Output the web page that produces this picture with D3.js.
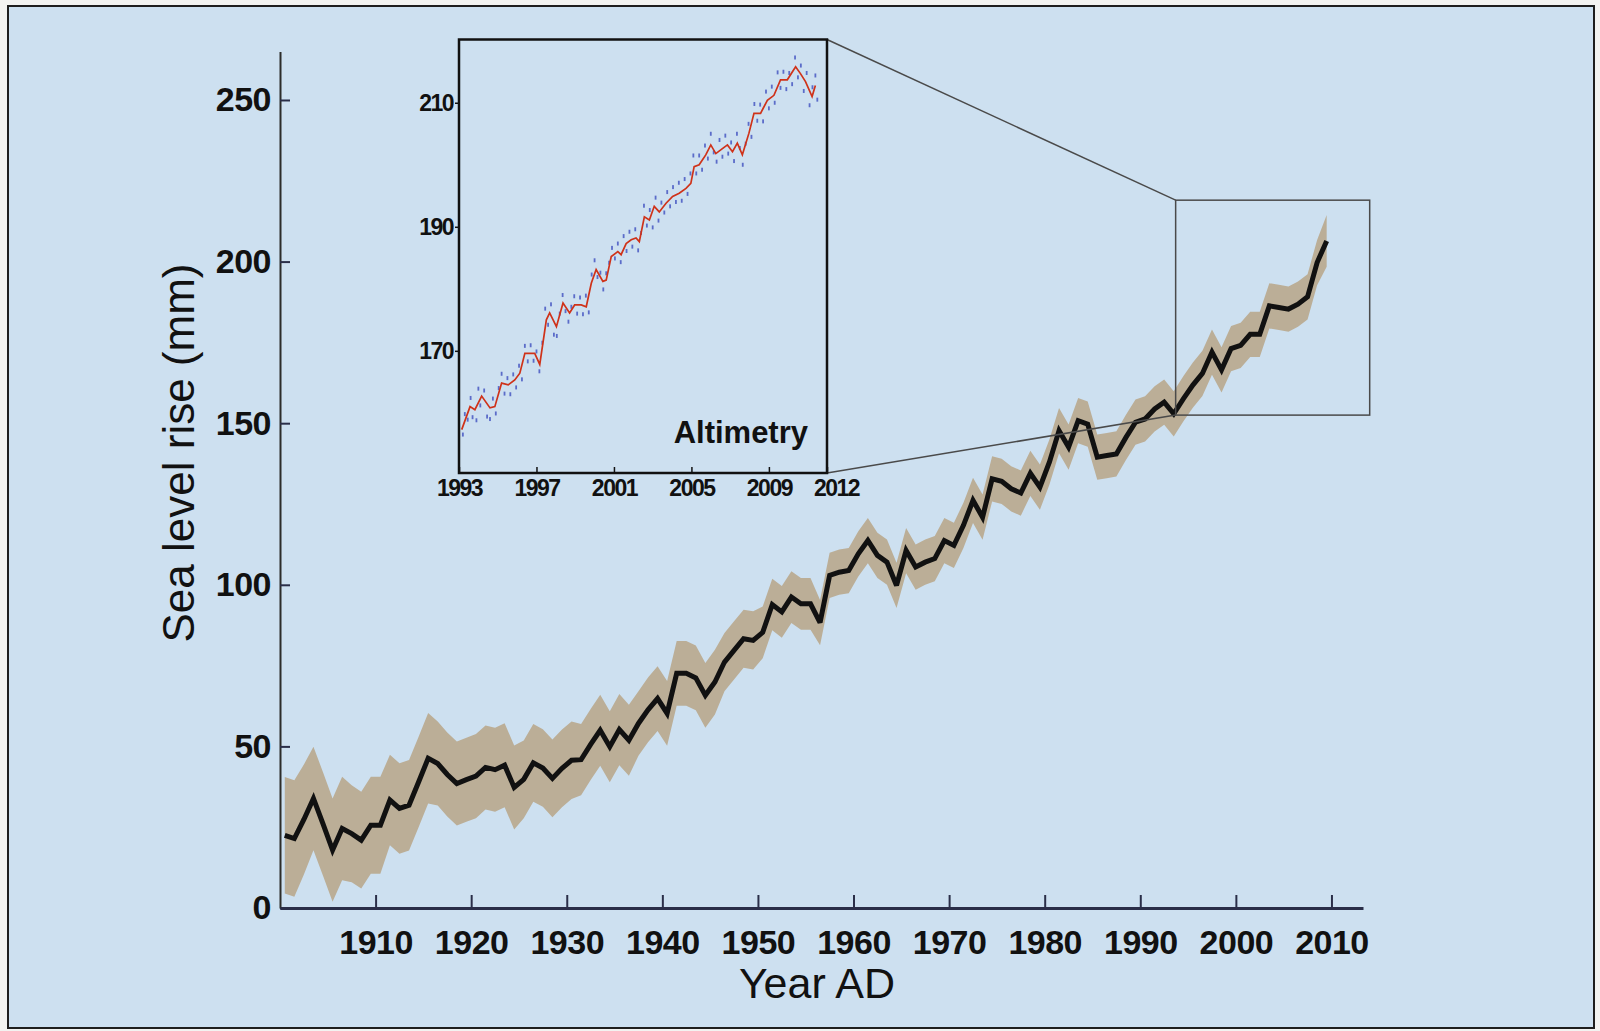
<!DOCTYPE html>
<meta charset="utf-8">
<style>
html, body {
  margin: 0;
  padding: 0;
  background: #f3f3f1;
}

svg {
  display: block;
  font-family: "Liberation Sans", Arial, sans-serif;
}

.axis text {
  font-weight: bold;
  fill: #111;
}

.main.axis text {
  font-size: 34px;
  letter-spacing: -0.5px;
}

.inset.axis text {
  font-size: 23px;
  letter-spacing: -1.5px;
}

.x.main.axis path {
  stroke: #2a2e48;
  stroke-width: 3px;
}

.y.main.axis path {
  stroke: #2d2d2a;
  stroke-width: 2px;
}

.main.axis line {
  stroke: #2a2e48;
  stroke-width: 2px;
}

.inset.axis path {
  display: none;
}

.inset.axis line {
  stroke: #111;
  stroke-width: 1.5px;
}

.band {
  fill: #bbae97;
}

.rise {
  fill: none;
  stroke: #111;
  stroke-width: 5px;
  stroke-linejoin: miter;
  stroke-miterlimit: 3;
}

.alti {
  fill: none;
  stroke: #cf3219;
  stroke-width: 1.7px;
}

.dot {
  fill: #3f4fbf;
  fill-opacity: .8;
}

.connector, .zoombox {
  fill: none;
  stroke: #4a4a4a;
  stroke-width: 1.5px;
}
</style>
<body>
<div id="chart"></div>
<script src="https://cdn.jsdelivr.net/npm/d3@7"></script>
<script>

// annual global mean sea level reconstruction (mm), plotted at mid-year
var years = d3.range(1900, 2010);

var riseMm = [
  22.5, 21.5, 27.4, 33.9, 26.0, 17.9, 24.6, 23.0, 21.0, 25.6,
  25.6, 33.4, 30.8, 31.8, 39.0, 46.3, 44.7, 41.3, 38.5, 39.7,
  40.8, 43.5, 42.8, 44.2, 37.3, 39.8, 44.9, 43.3, 40.1, 43.2,
  45.7, 45.9, 50.6, 55.0, 49.9, 55.2, 51.9, 57.1, 61.3, 64.8,
  60.2, 72.6, 72.6, 71.2, 65.8, 69.9, 76.1, 79.7, 83.3, 82.8,
  85.3, 93.9, 91.6, 96.2, 94.1, 94.1, 88.3, 102.9, 103.9, 104.4,
  109.6, 113.7, 109.1, 107.0, 99.8, 110.6, 105.5, 107.0, 108.1, 113.7,
  112.2, 118.4, 126.1, 120.9, 132.8, 132.0, 129.7, 128.4, 134.5, 130.2,
  138.0, 147.7, 142.6, 150.8, 149.7, 139.5, 140.0, 140.5, 145.6, 150.3,
  151.3, 154.4, 156.5, 152.9, 157.5, 161.8, 165.4, 172.0, 166.5, 173.1,
  174.1, 177.5, 177.5, 186.3, 185.8, 185.3, 186.8, 189.1, 199.7, 206.4
];

// half width of the uncertainty band (mm)
var errMm = [
  18, 18, 17, 16, 16, 16, 16, 15, 15, 15,
  15, 14, 14, 14, 14, 14, 13, 13, 13, 13,
  13, 13, 13, 13, 13, 12, 12, 12, 12, 12,
  12, 11, 11, 11, 11, 11, 11, 10, 10, 10,
  10, 10, 10, 10, 10, 10, 9, 9, 9, 9,
  8, 8, 8, 8, 8, 8, 7, 7, 7, 7,
  7, 7, 7, 7, 7, 7, 7, 7, 7, 7,
  7, 7, 7, 7, 7, 7, 7, 7, 7, 7,
  7, 7, 7, 7, 7, 7, 7, 7, 7, 7,
  7, 7, 7, 7, 7, 7, 7, 7, 7, 7,
  7, 7, 7, 7, 7, 7, 7, 7, 7, 8
];

var yearTicks = [1910, 1920, 1930, 1940, 1950, 1960, 1970, 1980, 1990, 2000, 2010];
var mmTicks = [0, 50, 100, 150, 200, 250];

// satellite altimetry, smoothed curve
var altT = [
  1993.14, 1993.57, 1993.82, 1994.17, 1994.60, 1994.85, 1995.20, 1995.54, 1995.88, 1996.14,
  1996.40, 1996.91, 1997.17, 1997.51, 1997.68, 1998.03, 1998.37, 1998.71, 1998.97, 1999.31,
  1999.57, 1999.83, 2000.08, 2000.43, 2000.60, 2000.86, 2001.20, 2001.37, 2001.63, 2001.89,
  2002.14, 2002.31, 2002.57, 2002.83, 2003.08, 2003.34, 2003.69, 2004.03, 2004.37, 2004.72,
  2004.97, 2005.14, 2005.40, 2005.74, 2006.00, 2006.26, 2006.60, 2006.86, 2007.12, 2007.37,
  2007.63, 2007.97, 2008.23, 2008.57, 2008.92, 2009.26, 2009.60, 2009.95, 2010.38, 2010.63,
  2010.89, 2011.23, 2011.40
];
var altV = [
  157.3, 161.0, 160.5, 162.7, 160.8, 161.0, 164.8, 164.5, 165.3, 166.4,
  169.6, 169.6, 167.8, 175.0, 176.1, 173.9, 177.7, 176.1, 177.4, 177.4,
  177.1, 180.9, 183.1, 181.2, 181.4, 185.2, 186.0, 185.5, 187.3, 187.9,
  188.2, 187.6, 191.6, 191.1, 193.3, 192.4, 193.8, 194.9, 195.4, 196.2,
  197.0, 199.7, 200.0, 201.6, 203.2, 201.8, 202.6, 203.2, 202.1, 203.5,
  201.6, 205.1, 208.3, 208.3, 210.4, 211.2, 213.7, 213.7, 215.8, 214.7,
  213.4, 211.0, 212.8
];

// altimetry samples (blue points)
var dotT = [
  1993.2, 1993.3, 1993.45, 1993.6, 1993.7, 1993.9, 1994.0, 1994.1, 1994.3, 1994.45,
  1994.6, 1994.75, 1994.9, 1995.05, 1995.2, 1995.35, 1995.5, 1995.65, 1995.8, 1995.95,
  1996.1, 1996.25, 1996.4, 1996.55, 1996.7, 1996.85, 1997.0, 1997.15, 1997.3, 1997.45,
  1997.6, 1997.75, 1997.9, 1998.05, 1998.2, 1998.35, 1998.5, 1998.65, 1998.8, 1998.95,
  1999.1, 1999.25, 1999.4, 1999.55, 1999.7, 1999.85, 2000.0, 2000.15, 2000.3, 2000.45,
  2000.6, 2000.75, 2000.9, 2001.05, 2001.2, 2001.35, 2001.5, 2001.65, 2001.8, 2001.95,
  2002.1, 2002.25, 2002.4, 2002.55, 2002.7, 2002.85, 2003.0, 2003.15, 2003.3, 2003.45,
  2003.6, 2003.75, 2003.9, 2004.05, 2004.2, 2004.35, 2004.5, 2004.65, 2004.8, 2004.95,
  2005.1, 2005.25, 2005.4, 2005.55, 2005.7, 2005.85, 2006.0, 2006.15, 2006.3, 2006.45,
  2006.6, 2006.75, 2006.9, 2007.05, 2007.2, 2007.35, 2007.5, 2007.65, 2007.8, 2007.95,
  2008.1, 2008.25, 2008.4, 2008.55, 2008.7, 2008.85, 2009.0, 2009.15, 2009.3, 2009.45,
  2009.6, 2009.75, 2009.9, 2010.05, 2010.2, 2010.35, 2010.5, 2010.65, 2010.8, 2010.95,
  2011.1, 2011.25, 2011.4, 2011.5
];
var dotV = [
  156.5, 159.8, 158.9, 162.4, 159.3, 158.8, 163.9, 161.2, 163.6, 159.4,
  159.0, 162.3, 159.9, 164.0, 166.3, 163.1, 165.6, 163.0, 166.2, 164.1,
  167.6, 165.4, 170.8, 168.3, 170.9, 168.4, 169.9, 166.7, 171.3, 176.8,
  174.2, 177.5, 172.6, 172.4, 176.0, 179.0, 176.4, 174.7, 177.1, 178.8,
  176.0, 178.6, 175.9, 178.9, 176.2, 182.3, 184.6, 181.9, 182.6, 179.9,
  182.5, 184.2, 186.6, 184.9, 187.3, 184.3, 188.5, 186.1, 189.2, 186.8,
  189.6, 186.2, 189.0, 193.4, 190.2, 192.7, 189.9, 194.7, 191.0, 193.9,
  192.3, 195.6, 193.3, 196.4, 194.0, 197.1, 194.2, 197.7, 195.3, 198.6,
  201.5, 198.6, 201.5, 199.2, 203.1, 201.0, 205.0, 202.0, 200.5, 204.0,
  201.3, 204.7, 201.8, 203.6, 200.6, 205.0, 202.7, 200.0, 203.4, 206.6,
  204.5, 209.8, 207.1, 209.7, 207.0, 211.8, 209.1, 212.6, 210.0, 214.9,
  212.4, 215.0, 212.2, 214.8, 213.0, 217.3, 214.1, 216.0, 211.9, 214.8,
  209.6, 212.5, 214.4, 210.5
];

var altYearTicks = [1993, 1997, 2001, 2005, 2009, 2012];
var altMmTicks = [170, 190, 210];

// region of the main plot that the inset enlarges
var zoomYears = [1993.7, 2014];
var zoomMm = [152.5, 219];

var width = 1600,
    height = 1031;

var svg = d3.select("#chart").append("svg")
    .attr("width", width)
    .attr("height", height);

// panel
svg.append("rect")
    .attr("x", 8)
    .attr("y", 6)
    .attr("width", 1586)
    .attr("height", 1022)
    .attr("fill", "#cde0f0")
    .attr("stroke", "#1e1e1e")
    .attr("stroke-width", 2);

var x = d3.scaleLinear().domain([1900, 2013.3]).range([280, 1363]);
var y = d3.scaleLinear().domain([0, 265]).range([908, 51.5]);

var series = years.map(function(yr, i) {
  return {t: yr + 0.5, v: riseMm[i], e: errMm[i]};
});

svg.append("path")
    .datum(series)
    .attr("class", "band")
    .attr("d", d3.area()
      .x(function(d) { return x(d.t); })
      .y0(function(d) { return y(d.v - d.e); })
      .y1(function(d) { return y(d.v + d.e); }));

svg.append("path")
    .datum(series)
    .attr("class", "rise")
    .attr("d", d3.line()
      .x(function(d) { return x(d.t); })
      .y(function(d) { return y(d.v); }));

svg.append("g")
    .attr("class", "x main axis")
    .attr("transform", "translate(0," + y(0) + ")")
    .call(d3.axisBottom(x)
      .tickValues(yearTicks)
      .tickFormat(d3.format("d"))
      .tickSizeInner(-13)
      .tickSizeOuter(0)
      .tickPadding(22));

svg.append("g")
    .attr("class", "y main axis")
    .attr("transform", "translate(" + x(1900) + ",0)")
    .call(d3.axisLeft(y)
      .tickValues(mmTicks)
      .tickSizeInner(-10)
      .tickSizeOuter(0)
      .tickPadding(9));

svg.append("text")
    .attr("x", 817)
    .attr("y", 998)
    .attr("text-anchor", "middle")
    .style("font-size", "43px")
    .style("fill", "#111")
    .text("Year AD");

svg.append("text")
    .attr("transform", "translate(194,453) rotate(-90)")
    .attr("text-anchor", "middle")
    .style("font-size", "44px")
    .style("fill", "#111")
    .text("Sea level rise (mm)");

// inset
var ix = d3.scaleLinear().domain([1993, 2012]).range([459, 827]);
var iy = d3.scaleLinear().domain([150.3, 220.2]).range([473, 39.5]);

var zx0 = x(zoomYears[0]), zx1 = x(zoomYears[1]),
    zy0 = y(zoomMm[1]), zy1 = y(zoomMm[0]);

svg.append("rect")
    .attr("class", "zoombox")
    .attr("x", zx0)
    .attr("y", zy0)
    .attr("width", zx1 - zx0)
    .attr("height", zy1 - zy0);

svg.append("line")
    .attr("class", "connector")
    .attr("x1", ix.range()[1]).attr("y1", iy.range()[1])
    .attr("x2", zx0).attr("y2", zy0);

svg.append("line")
    .attr("class", "connector")
    .attr("x1", ix.range()[1]).attr("y1", iy.range()[0])
    .attr("x2", zx0).attr("y2", zy1);

svg.append("clipPath")
    .attr("id", "insetclip")
  .append("rect")
    .attr("x", ix.range()[0])
    .attr("y", iy.range()[1])
    .attr("width", ix.range()[1] - ix.range()[0])
    .attr("height", iy.range()[0] - iy.range()[1]);

var inset = svg.append("g").attr("clip-path", "url(#insetclip)");

inset.selectAll(".dot")
    .data(dotT.map(function(t, i) { return {t: t, v: dotV[i]}; }))
  .enter().append("rect")
    .attr("class", "dot")
    .attr("x", function(d) { return ix(d.t) - 0.9; })
    .attr("y", function(d) { return iy(d.v) - 2; })
    .attr("width", 1.8)
    .attr("height", 4);

inset.append("path")
    .datum(altT.map(function(t, i) { return {t: t, v: altV[i]}; }))
    .attr("class", "alti")
    .attr("d", d3.line()
      .x(function(d) { return ix(d.t); })
      .y(function(d) { return iy(d.v); }));

svg.append("rect")
    .attr("x", ix.range()[0])
    .attr("y", iy.range()[1])
    .attr("width", ix.range()[1] - ix.range()[0])
    .attr("height", iy.range()[0] - iy.range()[1])
    .attr("fill", "none")
    .attr("stroke", "#111")
    .attr("stroke-width", 2.5);

var insetX = svg.append("g")
    .attr("class", "x inset axis")
    .attr("transform", "translate(0," + iy.range()[0] + ")")
    .call(d3.axisBottom(ix)
      .tickValues(altYearTicks)
      .tickFormat(d3.format("d"))
      .tickSizeInner(-6)
      .tickSizeOuter(0)
      .tickPadding(7));

// the last label sits just right of the frame corner
insetX.selectAll(".tick text")
    .attr("dx", function(d) { return d === 2012 ? 9 : 0; });

svg.append("g")
    .attr("class", "y inset axis")
    .attr("transform", "translate(" + ix.range()[0] + ",0)")
    .call(d3.axisLeft(iy)
      .tickValues(altMmTicks)
      .tickSizeInner(4)
      .tickSizeOuter(0)
      .tickPadding(2));

svg.append("text")
    .attr("x", 808)
    .attr("y", 443)
    .attr("text-anchor", "end")
    .style("font-size", "31px")
    .style("font-weight", "bold")
    .style("fill", "#111")
    .text("Altimetry");

</script>
</body>
